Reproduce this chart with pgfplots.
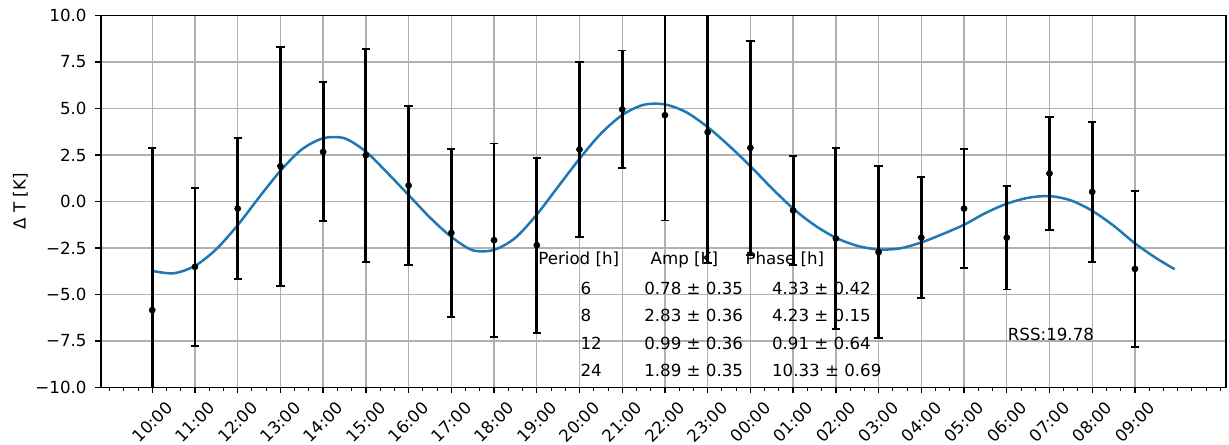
\documentclass[border=0pt]{standalone}
\usepackage{fontspec}
\setmainfont{DejaVu Sans}
\usepackage{pgfplots}
\usepackage{pgfplotstable}
\pgfplotsset{compat=1.18}
\definecolor{mplblue}{HTML}{1F77B4}
\definecolor{gridgray}{HTML}{B0B0B0}

% hourly means with 1-sigma errors (x = hours after 10:00)
\pgfplotstableread{
x y err
0 -5.84 8.70
1 -3.51 4.25
2 -0.38 3.78
3 1.90 6.42
4 2.67 3.74
5 2.49 5.72
6 0.86 4.28
7 -1.69 4.51
8 -2.08 5.20
9 -2.35 4.70
10 2.80 4.70
11 4.95 3.17
12 4.64 5.66
13 3.73 7.03
14 2.89 5.76
15 -0.48 2.91
16 -1.99 4.86
17 -2.72 4.63
18 -1.94 3.27
19 -0.38 3.20
20 -1.94 2.79
21 1.51 3.02
22 0.52 3.76
23 -3.62 4.20
}\obsdata

% fitted curve
\pgfplotstableread{
x y
0 -3.73
0.5 -3.86
1 -3.46
1.5 -2.56
2 -1.27
2.5 0.22
3 1.65
3.5 2.80
4 3.40
4.5 3.40
5 2.68
5.5 1.55
6 0.35
6.5 -0.86
7 -1.90
7.5 -2.62
8 -2.60
8.5 -1.95
9 -0.70
9.5 0.80
10 2.30
10.5 3.65
11 4.65
11.5 5.20
12 5.22
12.5 4.80
13 4.00
13.5 3.00
14 1.90
14.5 0.72
15 -0.38
15.5 -1.27
16 -1.95
16.5 -2.38
17 -2.58
17.5 -2.52
18 -2.20
18.5 -1.75
19 -1.25
19.5 -0.62
20 -0.12
20.5 0.20
21 0.29
21.5 0.06
22 -0.50
22.5 -1.30
23 -2.25
23.5 -3.05
23.93 -3.64
}\fitcurve

\begin{document}
\fontsize{12}{14.4}\selectfont
\begin{tikzpicture}
\begin{axis}[
    scale only axis,
    width=810pt, height=267.8pt,
    xmin=-1.2, xmax=25.13,
    ymin=-10, ymax=10,
    xtick={0,...,23},
    xticklabels={10:00,11:00,12:00,13:00,14:00,15:00,16:00,17:00,18:00,19:00,20:00,21:00,22:00,23:00,00:00,01:00,02:00,03:00,04:00,05:00,06:00,07:00,08:00,09:00},
    minor xtick={-1,-0.666667,...,25},
    ytick={-10,-7.5,-5,-2.5,0,2.5,5,7.5,10},
    yticklabels={−10.0,−7.5,−5.0,−2.5,0.0,2.5,5.0,7.5,10.0},
    tick pos=left,
    tick align=outside,
    major tick length=4.2pt,
    minor tick length=2.4pt,
    tick style={black, line width=0.96pt},
    minor tick style={black, line width=0.7pt},
    grid=major,
    major grid style={gridgray, line width=0.96pt},
    axis line style={line width=0.96pt},
    xticklabel style={yshift=-20.5pt, rotate=45, anchor=center, inner sep=0pt},
    yticklabel style={anchor=east, inner sep=0pt, xshift=-6pt},
    ylabel={Δ T [K]},
    every axis y label/.style={at={(axis description cs:-0.0716,0.5)}, rotate=90, anchor=center},
]
\addplot[mplblue, line width=1.8pt, smooth] table[x=x, y=y] {\fitcurve};
\addplot[black, only marks, mark=*, mark size=2.2pt,
    error bars/.cd, y dir=both, y explicit,
    error bar style={line width=2pt, black},
    error mark options={rotate=90, line width=1.4pt, mark size=3pt, black}]
    table[x=x, y=y, y error=err] {\obsdata};

\node[anchor=base west, inner sep=0pt] at (axis cs:9.03,-3.41) {Period [h]};
\node[anchor=base west, inner sep=0pt] at (axis cs:11.66,-3.41) {Amp [K]};
\node[anchor=base west, inner sep=0pt] at (axis cs:13.88,-3.41) {Phase [h]};
\node[anchor=base west, inner sep=0pt] at (axis cs:10.02,-4.99) {6};
\node[anchor=base west, inner sep=0pt] at (axis cs:10.02,-6.45) {8};
\node[anchor=base west, inner sep=0pt] at (axis cs:10.02,-7.94) {12};
\node[anchor=base west, inner sep=0pt] at (axis cs:10.02,-9.43) {24};
\node[anchor=base west, inner sep=0pt] at (axis cs:11.51,-4.99) {0.78 ± 0.35};
\node[anchor=base west, inner sep=0pt] at (axis cs:11.51,-6.45) {2.83 ± 0.36};
\node[anchor=base west, inner sep=0pt] at (axis cs:11.51,-7.94) {0.99 ± 0.36};
\node[anchor=base west, inner sep=0pt] at (axis cs:11.51,-9.43) {1.89 ± 0.35};
\node[anchor=base west, inner sep=0pt] at (axis cs:14.50,-4.99) {4.33 ± 0.42};
\node[anchor=base west, inner sep=0pt] at (axis cs:14.50,-6.45) {4.23 ± 0.15};
\node[anchor=base west, inner sep=0pt] at (axis cs:14.50,-7.94) {0.91 ± 0.64};
\node[anchor=base west, inner sep=0pt] at (axis cs:14.50,-9.43) {10.33 ± 0.69};
\node[anchor=base west, inner sep=0pt] at (axis cs:20.02,-7.46) {RSS:19.78};
\end{axis}
\pgfresetboundingbox
\path[use as bounding box] ([xshift=-72.7pt,yshift=-41.4pt]current axis.south west)
    rectangle ([xshift=2.2pt,yshift=11.2pt]current axis.north east);
\end{tikzpicture}
\end{document}
